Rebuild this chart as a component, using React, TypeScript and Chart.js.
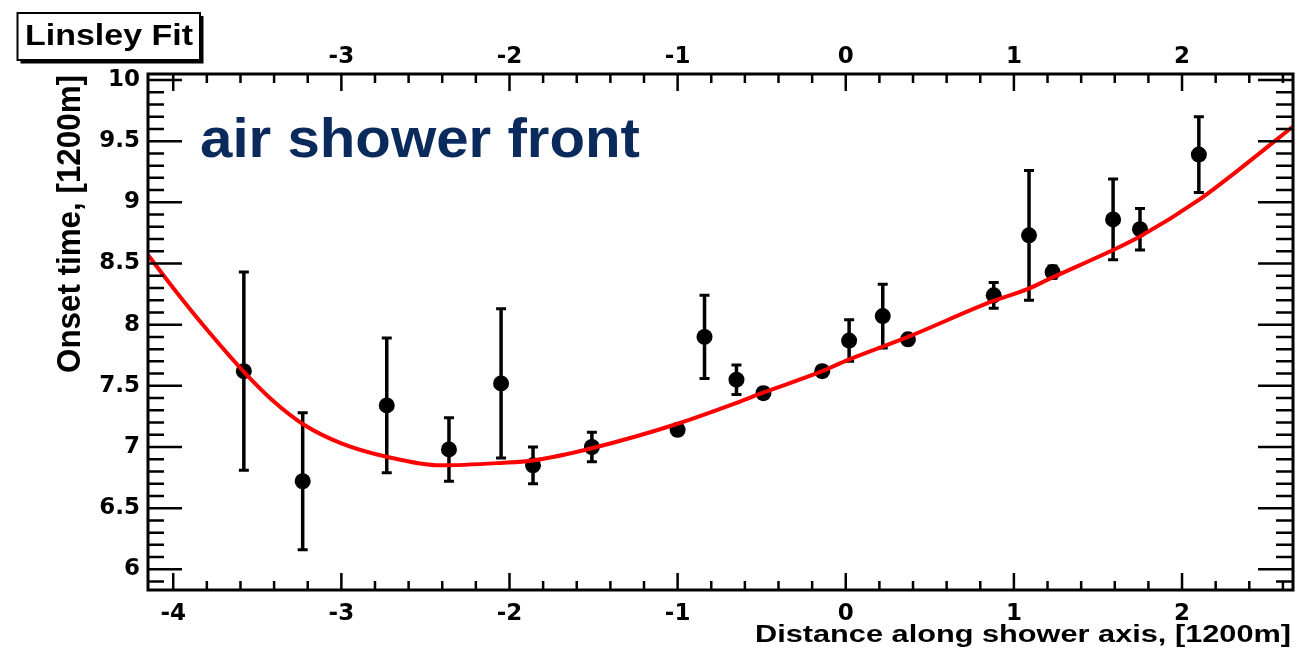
import React, { useEffect, useRef } from "react";
import { Chart, registerables } from "chart.js";

Chart.register(...registerables);

// ---------- data ----------
const xValues = [-3.58, -3.23, -2.73, -2.36, -2.05, -1.86, -1.51, -1.0, -0.84, -0.65, -0.49, -0.14, 0.02, 0.22, 0.37, 0.88, 1.09, 1.23, 1.59, 1.75, 2.1];
const yValues = [7.62, 6.72, 7.34, 6.98, 7.52, 6.85, 7.0, 7.14, 7.9, 7.55, 7.44, 7.62, 7.87, 8.07, 7.88, 8.24, 8.73, 8.43, 8.86, 8.78, 9.39];
const yErrors = [0.81, 0.56, 0.55, 0.26, 0.61, 0.15, 0.12, 0.04, 0.34, 0.12, 0.04, 0.04, 0.17, 0.26, 0.04, 0.105, 0.53, 0.05, 0.33, 0.17, 0.31];

// fit curve
const fitX = [-4.15, -4.0, -3.8, -3.57, -3.4, -3.22, -3.0, -2.73, -2.41, -2.05, -1.86, -1.51, -1.0, -0.67, -0.5, -0.14, 0.01, 0.37, 0.87, 1.08, 1.22, 1.59, 1.75, 2.1, 2.35, 2.66];
const fitY = [8.57, 8.3, 7.96, 7.6, 7.37, 7.18, 7.03, 6.92, 6.85, 6.87, 6.89, 6.99, 7.19, 7.35, 7.44, 7.62, 7.71, 7.9, 8.19, 8.29, 8.38, 8.61, 8.72, 9.02, 9.28, 9.62];

// axes
const xRange = [-4.15, 2.66];
const yRange = [5.831, 10.049];
const xTickValues = [-4, -3, -2, -1, 0, 1, 2];
const xTopTickValues = [-3, -2, -1, 0, 1, 2];
const yTickValues = [6, 6.5, 7, 7.5, 8, 8.5, 9, 9.5, 10];
const xMinorStep = 0.2;
const yMinorStep = 0.1;

// texts
const boxTitle = "Linsley Fit";
const annotationText = "air shower front";
const xTitle = "Distance along shower axis, [1200m]";
const yTitle = "Onset time, [1200m]";

const TICK_FONT = { family: "'DejaVu Sans'", size: 23, weight: "bold" as const };

function drawFitted(
  ctx: CanvasRenderingContext2D,
  text: string,
  x: number,
  y: number,
  width: number,
  cap: number,
  align: CanvasTextAlign,
  color: string,
  family: string,
  rotate = false
) {
  ctx.save();
  ctx.font = `bold 100px ${family}`;
  const capRatio = ctx.measureText("H").actualBoundingBoxAscent / 100;
  const size = cap / capRatio;
  ctx.font = `bold ${size}px ${family}`;
  const w = ctx.measureText(text).width;
  const sx = width / w;
  ctx.translate(x, y);
  if (rotate) ctx.rotate(-Math.PI / 2);
  ctx.scale(sx, 1);
  ctx.textAlign = align;
  ctx.textBaseline = "alphabetic";
  ctx.fillStyle = color;
  ctx.fillText(text, 0, 0);
  ctx.restore();
}

function isMajor(list: number[], v: number) {
  return list.some((t) => Math.abs(t - v) < 1e-6);
}

const rootStylePlugin = {
  id: "rootStyle",
  beforeDatasetsDraw(chart: any) {
    const { ctx, chartArea, scales } = chart;
    const xs = scales.x;
    const ys = scales.y;
    ctx.save();
    ctx.beginPath();
    ctx.rect(chartArea.left, chartArea.top, chartArea.right - chartArea.left, chartArea.bottom - chartArea.top);
    ctx.clip();
    ctx.strokeStyle = "#000";
    ctx.lineCap = "butt";
    for (let i = 0; i < xValues.length; i++) {
      const px = xs.getPixelForValue(xValues[i]);
      const top = ys.getPixelForValue(yValues[i] + yErrors[i]);
      const bot = ys.getPixelForValue(yValues[i] - yErrors[i]);
      ctx.lineWidth = 3.5;
      ctx.beginPath();
      ctx.moveTo(px, top);
      ctx.lineTo(px, bot);
      ctx.stroke();
      ctx.lineWidth = 3;
      ctx.beginPath();
      ctx.moveTo(px - 5, top);
      ctx.lineTo(px + 5, top);
      ctx.moveTo(px - 5, bot);
      ctx.lineTo(px + 5, bot);
      ctx.stroke();
    }
    ctx.restore();
  },
  afterDraw(chart: any) {
    const { ctx, chartArea, scales } = chart;
    const xs = scales.x;
    const ys = scales.y;
    const { left, right, top, bottom } = chartArea;
    ctx.save();
    ctx.strokeStyle = "#000";
    ctx.lineCap = "butt";

    // x ticks (bottom and top, inward)
    ctx.lineWidth = 2.5;
    ctx.beginPath();
    for (let k = Math.ceil(xRange[0] / xMinorStep - 1e-9); k * xMinorStep <= xRange[1] + 1e-9; k++) {
      const v = k * xMinorStep;
      const len = isMajor(xTickValues, v) ? 17 : 9;
      const px = xs.getPixelForValue(v);
      ctx.moveTo(px, bottom);
      ctx.lineTo(px, bottom - len);
      ctx.moveTo(px, top);
      ctx.lineTo(px, top + len);
    }
    // y ticks (left and right, inward)
    for (let k = Math.ceil(yRange[0] / yMinorStep - 1e-9); k * yMinorStep <= yRange[1] + 1e-9; k++) {
      const v = k * yMinorStep;
      const major = isMajor(yTickValues, v);
      const py = ys.getPixelForValue(v);
      ctx.moveTo(left, py);
      ctx.lineTo(left + (major ? 34 : 16), py);
      ctx.moveTo(right, py);
      ctx.lineTo(right - (major ? 35 : 17), py);
    }
    ctx.stroke();

    // frame
    ctx.lineWidth = 3;
    ctx.strokeRect(left, top, right - left, bottom - top);
    ctx.restore();

    const fam = "'Liberation Sans', Arial, sans-serif";
    // axis titles
    drawFitted(ctx, xTitle, 1291, 642, 536, 16.7, "right", "#000", fam);
    drawFitted(ctx, yTitle, 80, 373, 298, 23, "left", "#000", fam, true);

    // annotation
    drawFitted(ctx, annotationText, 200, 157, 440, 39, "left", "#0b2a5c", fam);

    // title box with shadow
    ctx.save();
    ctx.fillStyle = "#000";
    ctx.fillRect(20.5, 16, 183, 47.5);
    ctx.fillStyle = "#fff";
    ctx.fillRect(17.5, 13, 182.5, 47);
    ctx.lineWidth = 2;
    ctx.strokeStyle = "#000";
    ctx.strokeRect(17.5, 13, 182.5, 47);
    ctx.restore();
    drawFitted(ctx, boxTitle, 25, 45, 168, 20, "left", "#000", fam);
  },
};

export default function App() {
  const canvasRef = useRef<HTMLCanvasElement | null>(null);

  useEffect(() => {
    const canvas = canvasRef.current;
    if (!canvas) return;
    const pointData = xValues.map((x, i) => ({ x, y: yValues[i] }));
    const fitData = fitX.map((x, i) => ({ x, y: fitY[i] }));

    const chart = new Chart(canvas, {
      type: "scatter",
      data: {
        datasets: [
          {
            type: "line",
            label: "Linsley fit",
            data: fitData,
            borderColor: "#ff0000",
            borderWidth: 4,
            pointRadius: 0,
            fill: false,
            cubicInterpolationMode: "monotone",
          } as any,
          {
            type: "scatter",
            label: "Onset time",
            data: pointData,
            pointRadius: 8,
            pointHoverRadius: 8,
            backgroundColor: "#000",
            borderWidth: 0,
          } as any,
        ],
      },
      options: {
        responsive: false,
        animation: false,
        devicePixelRatio: 1,
        layout: { padding: 0 },
        events: [],
        plugins: { legend: { display: false }, tooltip: { enabled: false } },
        scales: {
          x: {
            type: "linear",
            position: "bottom",
            min: xRange[0],
            max: xRange[1],
            grid: { display: false, drawTicks: false },
            border: { display: false },
            ticks: {
              autoSkip: false,
              maxRotation: 0,
              padding: 10,
              color: "#000",
              font: TICK_FONT,
              callback: (v: any) => String(v),
            },
            afterBuildTicks: (s: any) => {
              s.ticks = xTickValues.map((value) => ({ value }));
            },
            afterFit: (s: any) => {
              s.height = 61;
            },
          },
          x2: {
            type: "linear",
            position: "top",
            min: xRange[0],
            max: xRange[1],
            grid: { display: false, drawTicks: false },
            border: { display: false },
            ticks: {
              autoSkip: false,
              maxRotation: 0,
              padding: 3,
              color: "#000",
              font: TICK_FONT,
              callback: (v: any) => String(v),
            },
            afterBuildTicks: (s: any) => {
              s.ticks = xTopTickValues.map((value) => ({ value }));
            },
            afterFit: (s: any) => {
              s.height = 74;
            },
          },
          y: {
            type: "linear",
            position: "left",
            min: yRange[0],
            max: yRange[1],
            grid: { display: false, drawTicks: false },
            border: { display: false },
            ticks: {
              autoSkip: false,
              padding: 8,
              color: "#000",
              font: TICK_FONT,
              callback: (v: any) => String(v),
            },
            afterBuildTicks: (s: any) => {
              s.ticks = yTickValues.map((value) => ({ value }));
            },
            afterFit: (s: any) => {
              s.width = 148;
            },
          },
          y2: {
            type: "linear",
            position: "right",
            min: yRange[0],
            max: yRange[1],
            grid: { display: false, drawTicks: false },
            border: { display: false },
            ticks: { display: false },
            afterFit: (s: any) => {
              s.width = 16;
            },
          },
        },
      } as any,
      plugins: [rootStylePlugin],
    });

    return () => chart.destroy();
  }, []);

  return (
    <div style={{ position: "fixed", left: 0, top: 0, width: 1309, height: 651, background: "#fff" }}>
      <canvas ref={canvasRef} width={1309} height={651} style={{ display: "block", width: 1309, height: 651 }} />
    </div>
  );
}
